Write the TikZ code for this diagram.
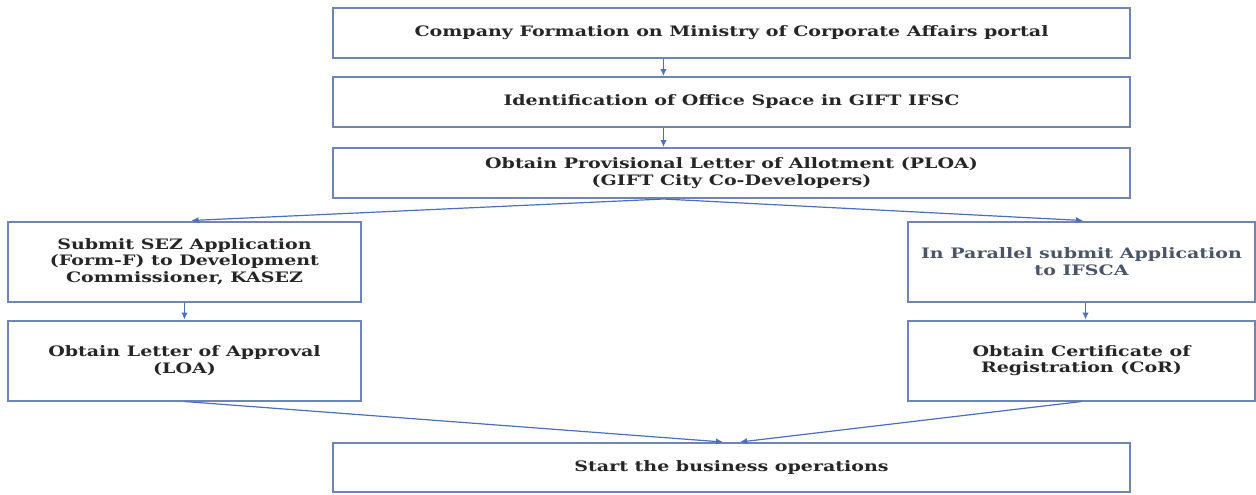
\documentclass[tikz,border=0pt]{standalone}
\usepackage{fontspec}
\setmainfont{DejaVu Serif}[FakeStretch=1.32]
\usepackage{tikz}
\usetikzlibrary{arrows.meta,positioning,calc}
\definecolor{boxline}{HTML}{6F86B4}
\definecolor{arrline}{HTML}{4A6FC0}
\definecolor{slate}{HTML}{4A5568}

\begin{document}
\begin{tikzpicture}[x=0.5pt,y=-0.5pt,
  stepbox/.style={draw=boxline,line width=1pt,align=center,inner sep=0pt,
    font=\fontsize{7.2}{8.3}\selectfont\bfseries,text=black!85},
  widebox/.style={stepbox,minimum width=398.5pt,minimum height=25pt},
  sidebox/.style={stepbox,minimum width=176.5pt,minimum height=40pt},
  arr/.style={draw=arrline,line width=0.6pt,-{Latex[length=3.5pt,width=3.2pt]}}]
\useasboundingbox (0,0) rectangle (1256,494);
\node[widebox] (mca) at (731.5,33) {Company Formation on Ministry of Corporate Affairs portal};
\node[widebox] (office) at (731.5,102) {Identification of Office Space in GIFT IFSC};
\node[widebox] (ploa) at (731.5,173) {Obtain Provisional Letter of Allotment (PLOA)\\(GIFT City Co-Developers)};
\node[sidebox] (sez) at (184.5,261.5) {Submit SEZ Application\\(Form-F) to Development\\Commissioner, KASEZ};
\node[sidebox] (loa) at (184.5,360.5) {Obtain Letter of Approval\\(LOA)};
\node[sidebox,minimum width=173.5pt,text=slate] (ifsca) at (1081.5,261.5) {In Parallel submit Application\\to IFSCA};
\node[sidebox,minimum width=173.5pt] (cor) at (1081.5,360.5) {Obtain Certificate of\\Registration (CoR)};
\node[widebox,minimum height=24.5pt] (start) at (731.5,467.5) {Start the business operations};
% top column
\draw[arr] ([xshift=-34pt]mca.south) -- ([xshift=-34pt]office.north);
\draw[arr] ([xshift=-34pt]office.south) -- ([xshift=-34pt]ploa.north);
% split into the two tracks
\draw[arr] ([xshift=-34pt]ploa.south) -- ([xshift=3.5pt]sez.north);
\draw[arr] ([xshift=-34pt]ploa.south) -- ([xshift=0.75pt]ifsca.north);
\draw[arr] (sez) -- (loa);
\draw[arr] ([xshift=2pt]ifsca.south) -- ([xshift=2pt]cor.north);
% join again
\draw[arr] (loa.south) -- ([xshift=-4.25pt]start.north);
\draw[arr] (cor.south) -- ([xshift=4.25pt]start.north);
\end{tikzpicture}
\end{document}
